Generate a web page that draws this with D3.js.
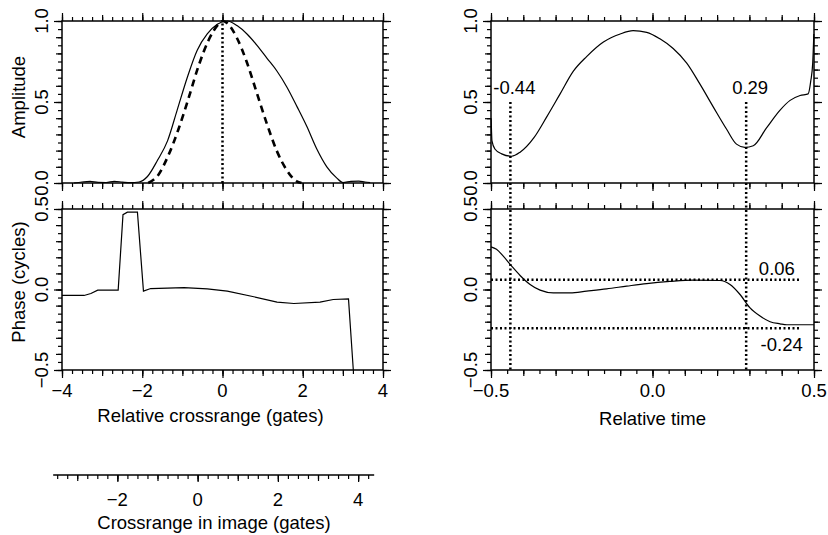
<!DOCTYPE html>
<html><head><meta charset="utf-8">
<script src="https://cdn.jsdelivr.net/npm/d3@7"></script>
<style>
body{margin:0;background:#fff;}
svg text{font-family:"Liberation Sans",Arial,sans-serif;fill:#000;font-size:18.5px;}
</style></head><body>
<svg id="chart" width="828" height="535"></svg>
<script>
// ---------- data ----------
const crossX = [-3.7,-3.5,-3.3,-3.1,-2.9,-2.7,-2.5,-2.3,-2.08,-1.87,-1.62,-1.37,-1.13,-0.88,-0.63,-0.38,-0.13,0.12,0.37,0.61,0.86,1.11,1.36,1.61,1.86,2.10,2.35,2.60,2.85,3.0,3.2,3.4,3.55,3.68];
const ampMeasured = [0.0,0.006,0.01,0.004,0.003,0.01,0.006,0.002,0.006,0.04,0.14,0.26,0.45,0.65,0.82,0.92,0.98,1.0,0.97,0.92,0.85,0.77,0.69,0.59,0.47,0.35,0.21,0.10,0.03,0.003,0.01,0.012,0.006,0.002];
const idealX = [-1.85,-1.6,-1.35,-1.1,-0.85,-0.6,-0.35,-0.1,0.0,0.1,0.35,0.6,0.85,1.1,1.35,1.6,1.85,1.97];
const ampIdeal = [0.0,0.05,0.17,0.33,0.52,0.72,0.88,0.98,1.0,0.99,0.9,0.75,0.56,0.37,0.2,0.08,0.01,0.0];
const peakX = [0, 0];
const peakAmp = [0, 1];
const phaseX = [-4,-3.45,-3.28,-3.11,-2.60,-2.48,-2.37,-2.12,-1.97,-1.79,-0.96,-0.38,0.12,0.78,1.36,1.78,2.43,2.76,3.14,3.26];
const phaseCycles = [-0.037,-0.037,-0.025,-0.004,-0.004,0.465,0.48,0.48,-0.01,0.006,0.012,0.004,-0.01,-0.045,-0.078,-0.087,-0.078,-0.062,-0.058,-0.5];
const timeX = [-0.4995,-0.497,-0.488,-0.467,-0.436,-0.41,-0.367,-0.327,-0.286,-0.245,-0.204,-0.152,-0.10,-0.06,-0.018,0.023,0.064,0.106,0.147,0.188,0.23,0.26,0.286,0.312,0.353,0.395,0.426,0.457,0.482,0.49,0.496,0.4995];
const timeAmp = [0.40,0.26,0.21,0.18,0.165,0.19,0.28,0.41,0.55,0.69,0.78,0.87,0.92,0.94,0.93,0.89,0.83,0.74,0.61,0.47,0.33,0.24,0.22,0.23,0.34,0.45,0.51,0.54,0.55,0.63,0.74,0.92];
const timePX = [-0.5,-0.483,-0.462,-0.436,-0.41,-0.379,-0.348,-0.307,-0.255,-0.204,-0.142,-0.08,-0.018,0.054,0.126,0.209,0.24,0.271,0.302,0.333,0.364,0.395,0.416,0.5];
const timePhase = [0.265,0.25,0.207,0.145,0.087,0.031,-0.004,-0.021,-0.021,-0.01,0.004,0.021,0.037,0.05,0.058,0.056,0.031,-0.031,-0.114,-0.165,-0.2,-0.213,-0.219,-0.219];
const markTimes = [-0.44, 0.29];
const markTimeLabels = ["-0.44", "0.29"];
const markPhases = [0.06, -0.24];
const markPhaseLabels = ["0.06", "-0.24"];
const crossTicks = [-4,-2,0,2,4];
const crossTickLabels = ["\u22124","\u22122","0","2","4"];
const timeTicks = [-0.5,0,0.5];
const timeTickLabels = ["\u22120.5","0.0","0.5"];
const ampTicks = [0,0.5,1];
const ampTickLabels = ["0.0","0.5","1.0"];
const phaseTicks = [-0.5,0,0.5];
const phaseTickLabels = ["\u22120.5","0.0","0.5"];
const imgTicks = [-2,0,2,4];
const imgTickLabels = ["\u22122","0","2","4"];
const imageOffset = 0.62; // image crossrange = relative + offset

// ---------- layout ----------
const svg = d3.select("#chart");
const xL = d3.scaleLinear().domain([-4,4]).range([62,383]);
const xR = d3.scaleLinear().domain([-0.5,0.5]).range([491,814]);
const yA = d3.scaleLinear().domain([0,1]).range([183,21]);
const yP = d3.scaleLinear().domain([-0.5,0.5]).range([370,209]);
const xI = d3.scaleLinear().domain([-4+imageOffset,4+imageOffset]).range([62,383]);

const rng = (a,b,s) => d3.range(Math.round(a/s), Math.round(b/s)+1).map(i => +(i*s).toFixed(4));

function ticks(axisFn, scale, levels, tx, ty){
  levels.forEach(l=>{
    const ax = axisFn(scale).tickValues(l.v).tickSize(l.s).tickSizeOuter(0).tickFormat("");
    const g = svg.append("g").attr("transform",`translate(${tx},${ty})`).call(ax);
    g.select(".domain").remove();
    g.selectAll("line").attr("stroke","#000").attr("stroke-width",1.2);
  });
}
function frame(x, y){
  const [x0,x1] = x.range(), [y1,y0] = y.range();
  svg.append("rect").attr("x",x0).attr("y",y0).attr("width",x1-x0).attr("height",y1-y0)
    .attr("fill","none").attr("stroke","#000").attr("stroke-width",1.5);
}
function panel(x, y, xLev, yLev){
  frame(x,y);
  const [x0,x1] = x.range(), [y1,y0] = y.range();
  ticks(d3.axisTop, x, xLev, 0, y0);
  ticks(d3.axisBottom, x, xLev, 0, y1);
  ticks(d3.axisLeft, y, yLev, x0, 0);
  ticks(d3.axisRight, y, yLev, x1, 0);
}
const xLLev = [{v:crossTicks,s:8},{v:rng(-4,4,1),s:6},{v:rng(-4,4,0.25),s:4}];
const xRLev = [{v:timeTicks,s:8},{v:rng(-0.5,0.5,0.1),s:6},{v:rng(-0.5,0.5,0.05),s:4}];
const yALev = [{v:ampTicks,s:8},{v:rng(0,1,0.1),s:6},{v:rng(0,1,0.05),s:4}];
const yPLev = [{v:phaseTicks,s:8},{v:rng(-0.5,0.5,0.1),s:6},{v:rng(-0.5,0.5,0.05),s:4}];

panel(xL,yA,xLLev,yALev);
panel(xL,yP,xLLev,yPLev);
panel(xR,yA,xRLev,yALev);
panel(xR,yP,xRLev,yPLev);

// y tick labels (rotated)
function yLabels(y, vals, labs, xBase){
  vals.forEach((v,i)=>{
    svg.append("text").attr("transform",`translate(${xBase},${y(v)}) rotate(-90)`)
      .attr("text-anchor","middle").text(labs[i]);
  });
}
yLabels(yA, ampTicks, ampTickLabels, 48);
yLabels(yP, phaseTicks, phaseTickLabels, 48);
yLabels(yA, ampTicks, ampTickLabels, 477);
yLabels(yP, phaseTicks, phaseTickLabels, 477);

svg.append("text").attr("transform",`translate(25,97) rotate(-90)`).attr("text-anchor","middle").text("Amplitude");
svg.append("text").attr("transform",`translate(25,282) rotate(-90)`).attr("text-anchor","middle").text("Phase (cycles)");

// x tick labels
crossTicks.forEach((v,i)=>svg.append("text").attr("x",xL(v)).attr("y",397).attr("text-anchor","middle").text(crossTickLabels[i]));
timeTicks.forEach((v,i)=>svg.append("text").attr("x",xR(v)).attr("y",397).attr("text-anchor","middle").text(timeTickLabels[i]));
svg.append("text").attr("x",xL(-0.3)).attr("y",422).attr("text-anchor","middle").text("Relative crossrange (gates)");
svg.append("text").attr("x",xR(0)).attr("y",425).attr("text-anchor","middle").text("Relative time");

// image crossrange axis
const yImg = 475;
svg.append("line").attr("x1",xI(-3.6)).attr("x2",xI(4.4)).attr("y1",yImg).attr("y2",yImg).attr("stroke","#000").attr("stroke-width",1.5);
ticks(d3.axisBottom, xI, [{v:imgTicks,s:7},{v:rng(-3,4,1),s:6},{v:rng(-3.5,4.25,0.25),s:4}], 0, yImg);
imgTicks.forEach((v,i)=>svg.append("text").attr("x",xI(v)).attr("y",506).attr("text-anchor","middle").text(imgTickLabels[i]));
svg.append("text").attr("x",214).attr("y",529).attr("text-anchor","middle").text("Crossrange in image (gates)");

// ---------- curves ----------
const line = (x,y,xs,ys,curve) => d3.line().x((d,i)=>x(xs[i])).y((d,i)=>y(ys[i])).curve(curve)(xs);
svg.append("path").attr("d",line(xL,yA,crossX,ampMeasured,d3.curveMonotoneX)).attr("fill","none").attr("stroke","#000").attr("stroke-width",1.2);
svg.append("path").attr("d",line(xL,yA,idealX,ampIdeal,d3.curveMonotoneX)).attr("fill","none").attr("stroke","#000").attr("stroke-width",2.6).attr("stroke-dasharray","7,5");
svg.append("line").attr("x1",xL(peakX[0])).attr("x2",xL(peakX[1])).attr("y1",yA(peakAmp[0])).attr("y2",yA(peakAmp[1]))
  .attr("stroke","#000").attr("stroke-width",2.5).attr("stroke-dasharray","2,2.5");
svg.append("path").attr("d",line(xL,yP,phaseX,phaseCycles,d3.curveLinear)).attr("fill","none").attr("stroke","#000").attr("stroke-width",1.2);
svg.append("path").attr("d",line(xR,yA,timeX,timeAmp,d3.curveMonotoneX)).attr("fill","none").attr("stroke","#000").attr("stroke-width",1.2);
svg.append("path").attr("d",line(xR,yP,timePX,timePhase,d3.curveMonotoneX)).attr("fill","none").attr("stroke","#000").attr("stroke-width",1.2);

// markers
const dot = s => s.attr("stroke","#000").attr("stroke-width",2.5).attr("stroke-dasharray","2,2.5").attr("fill","none");
markTimes.forEach((t,i)=>{
  svg.append("line").attr("x1",xR(t)).attr("x2",xR(t)).attr("y1",yA(0.5)).attr("y2",yP(-0.5)).call(dot);
  svg.append("text").attr("x",xR(t)+4).attr("y",yA(0.5)-8).attr("text-anchor","middle").text(markTimeLabels[i]);
});
markPhases.forEach((p,i)=>{
  svg.append("line").attr("x1",xR(-0.5)).attr("x2",xR(0.46)).attr("y1",yP(p)).attr("y2",yP(p)).call(dot);
});
svg.append("text").attr("x",xR(0.385)).attr("y",yP(markPhases[0])-5).attr("text-anchor","middle").text(markPhaseLabels[0]);
svg.append("text").attr("x",xR(0.4)).attr("y",yP(markPhases[1])+23).attr("text-anchor","middle").text(markPhaseLabels[1]);
</script></body></html>
